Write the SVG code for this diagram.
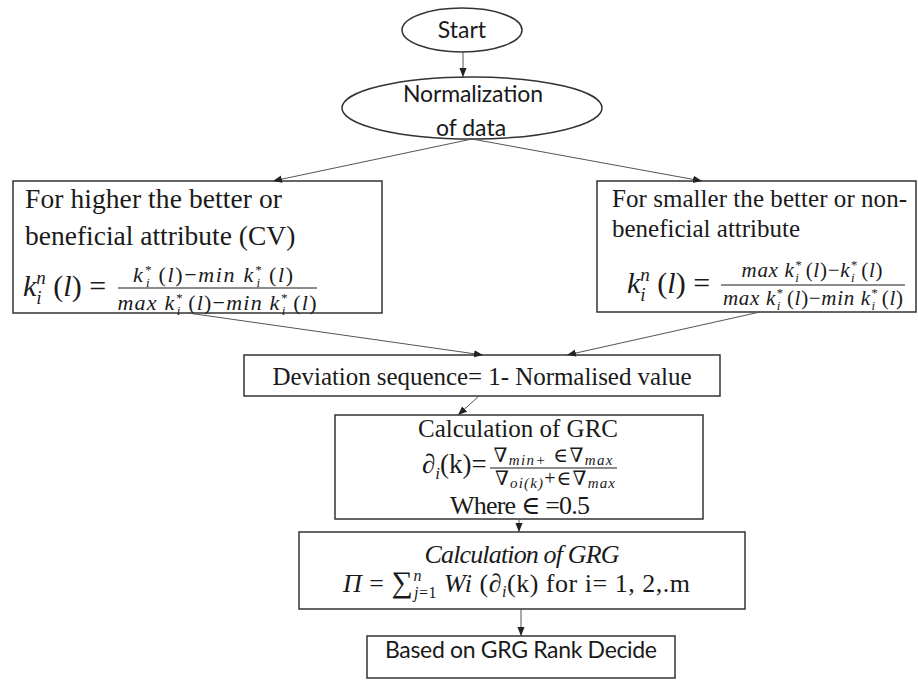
<svg xmlns="http://www.w3.org/2000/svg" width="918" height="680" viewBox="0 0 918 680">
<style>
.box{fill:#fff;stroke:#333;stroke-width:1.5}
.con line{stroke:#555;stroke-width:1;marker-end:url(#ah)}
.t{font-family:"Liberation Serif","DejaVu Serif",serif;fill:#1a1a1a}
.m{font-family:"Liberation Serif","DejaVu Serif",serif;font-style:italic;fill:#1a1a1a}
.u{font-style:normal}
.i{font-style:italic}
.s{font-family:Lato,"Open Sans",sans-serif;fill:#1a1a1a}
.bar{stroke:#1a1a1a;stroke-width:1.2}
</style>
<defs>
<marker id="ah" viewBox="0 0 10 10" refX="10" refY="5" markerWidth="9" markerHeight="9" markerUnits="userSpaceOnUse" orient="auto">
<path d="M0,1 L10,5 L0,9 z" fill="#222"/>
</marker>
</defs>
<rect width="918" height="680" fill="#fff"/>

<g id="start">
<ellipse class="box" cx="462" cy="30" rx="60" ry="22"/>
<text class="s" x="462" y="38" font-size="23" text-anchor="middle">Start</text>
</g>

<g id="normalization">
<ellipse class="box" cx="472" cy="108" rx="130" ry="31"/>
<text class="s" x="473" y="102" font-size="23" text-anchor="middle" textLength="140">Normalization</text>
<text class="s" x="471" y="136" font-size="23" text-anchor="middle">of data</text>
</g>

<g id="higher">
<rect class="box" x="13" y="181" width="369" height="132"/>
<text class="t" x="25" y="208" font-size="27.5" textLength="257">For higher the better or</text>
<text class="t" x="25" y="245" font-size="27.5">beneficial attribute (CV)</text>
<text class="m" x="23" y="296" font-size="30">k<tspan font-size="19" dy="8">i</tspan><tspan font-size="19" dx="-5.3" dy="-20">n</tspan><tspan dy="12" class="u"> (</tspan>l<tspan class="u">) =</tspan></text>
<text class="m" x="213" y="282" font-size="22" text-anchor="middle" textLength="160">k<tspan font-size="13" dy="-8">*</tspan><tspan font-size="13" dx="-6.5" dy="13">i</tspan><tspan dy="-5" class="u"> (</tspan>l<tspan class="u">)−</tspan>min k<tspan font-size="13" dy="-8">*</tspan><tspan font-size="13" dx="-6.5" dy="13">i</tspan><tspan dy="-5" class="u"> (</tspan>l<tspan class="u">)</tspan></text>
<line class="bar" x1="118" y1="288" x2="317" y2="288"/>
<text class="m" x="217" y="310" font-size="22" text-anchor="middle" textLength="199">max  k<tspan font-size="13" dy="-8">*</tspan><tspan font-size="13" dx="-6.5" dy="13">i</tspan><tspan dy="-5" class="u"> (</tspan>l<tspan class="u">)−</tspan>min  k<tspan font-size="13" dy="-8">*</tspan><tspan font-size="13" dx="-6.5" dy="13">i</tspan><tspan dy="-5" class="u"> (</tspan>l<tspan class="u">)</tspan></text>
</g>

<g id="smaller">
<rect class="box" x="597" y="181" width="319" height="131"/>
<text class="t" x="612" y="207" font-size="25" textLength="295">For smaller the better or non-</text>
<text class="t" x="612" y="237" font-size="25">beneficial attribute</text>
<text class="m" x="627" y="293" font-size="30">k<tspan font-size="19" dy="8">i</tspan><tspan font-size="19" dx="-5.3" dy="-20">n</tspan><tspan dy="12" class="u"> (</tspan>l<tspan class="u">) =</tspan></text>
<text class="m" x="812" y="277" font-size="21" text-anchor="middle" textLength="141">max  k<tspan font-size="13" dy="-8">*</tspan><tspan font-size="13" dx="-6.5" dy="13">i</tspan><tspan dy="-5" class="u"> (</tspan>l<tspan class="u">)−</tspan>k<tspan font-size="13" dy="-8">*</tspan><tspan font-size="13" dx="-6.5" dy="13">i</tspan><tspan dy="-5" class="u"> (</tspan>l<tspan class="u">)</tspan></text>
<line class="bar" x1="721" y1="285" x2="905" y2="285"/>
<text class="m" x="813" y="305" font-size="21" text-anchor="middle" textLength="180">max  k<tspan font-size="13" dy="-8">*</tspan><tspan font-size="13" dx="-6.5" dy="13">i</tspan><tspan dy="-5" class="u"> (</tspan>l<tspan class="u">)−</tspan>min  k<tspan font-size="13" dy="-8">*</tspan><tspan font-size="13" dx="-6.5" dy="13">i</tspan><tspan dy="-5" class="u"> (</tspan>l<tspan class="u">)</tspan></text>
</g>

<g id="deviation">
<rect class="box" x="244" y="355" width="476" height="41"/>
<text class="t" x="482" y="385" font-size="25" text-anchor="middle" textLength="419">Deviation sequence= 1- Normalised value</text>
</g>

<g id="grc">
<rect class="box" x="335" y="415" width="368" height="104"/>
<text class="t" x="518" y="437" font-size="25" text-anchor="middle" textLength="200">Calculation of GRC</text>
<text class="t" x="422" y="473" font-size="27"><tspan class="i">∂</tspan><tspan class="i" font-size="17" dy="6">i</tspan><tspan dy="-6">(k)=</tspan></text>
<text class="t" x="553" y="462" font-size="20" text-anchor="middle" textLength="119">∇<tspan class="i" font-size="15" dy="3">min+</tspan><tspan dy="-3"> ∈∇</tspan><tspan class="i" font-size="15" dy="3">max</tspan></text>
<line class="bar" x1="490" y1="468" x2="617" y2="468"/>
<text class="t" x="555" y="485" font-size="20" text-anchor="middle" textLength="120">∇<tspan class="i" font-size="15" dy="3">oi(k)</tspan><tspan dy="-3">+∈∇</tspan><tspan class="i" font-size="15" dy="3">max</tspan></text>
<text class="t" x="520" y="514" font-size="26" text-anchor="middle" textLength="140">Where ∈ =0.5</text>
</g>

<g id="grg">
<rect class="box" x="299" y="532" width="446" height="77"/>
<text class="m" x="522" y="563" font-size="26" text-anchor="middle" textLength="195">Calculation of GRG</text>
<text class="t" x="343" y="592" font-size="26" textLength="347"><tspan class="i">Π</tspan> = <tspan font-size="30">∑</tspan><tspan class="i" font-size="16" dy="-11">n</tspan><tspan font-size="16" dx="-8" dy="17"><tspan class="i">j</tspan>=1</tspan><tspan dy="-6">  </tspan><tspan class="i">Wi</tspan> (<tspan class="i">∂</tspan><tspan class="i" font-size="16" dy="5">i</tspan><tspan dy="-5">(k) for i= 1, 2,.m</tspan></text>
</g>

<g id="rank">
<rect class="box" x="367" y="636" width="308" height="42"/>
<text class="s" x="521" y="658" font-size="23" text-anchor="middle" textLength="272">Based on GRG Rank Decide</text>
</g>

<g id="connectors" class="con">
<line x1="463" y1="52" x2="463" y2="77"/>
<line x1="472" y1="139" x2="273" y2="181"/>
<line x1="472" y1="139" x2="702" y2="181"/>
<line x1="188" y1="313" x2="483" y2="355"/>
<line x1="760" y1="312" x2="567" y2="355"/>
<line x1="479" y1="396" x2="458" y2="415"/>
<line x1="519" y1="519" x2="519" y2="532"/>
<line x1="521" y1="609" x2="521" y2="636"/>
</g>
</svg>
